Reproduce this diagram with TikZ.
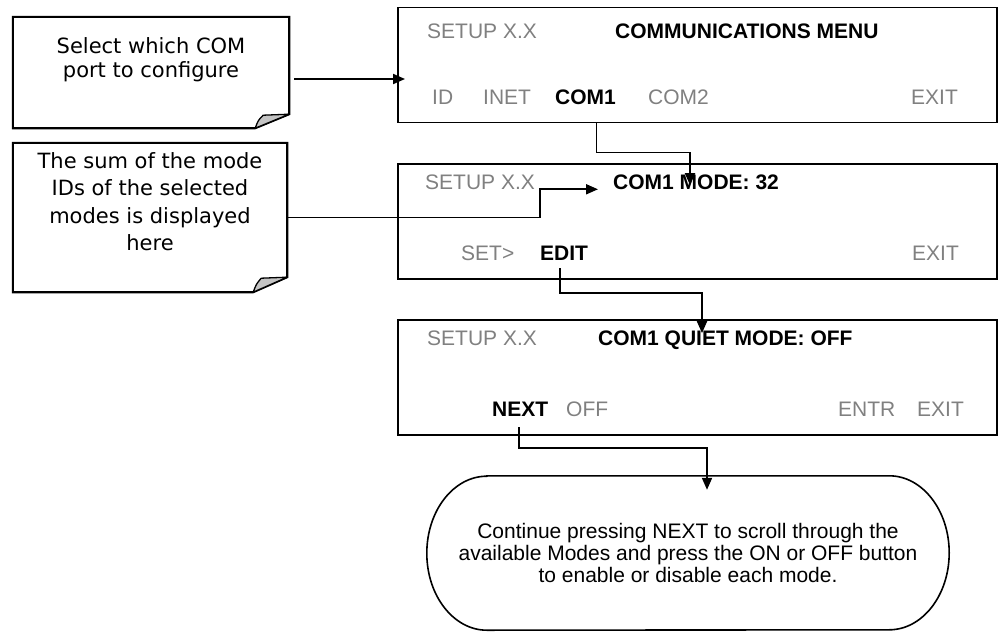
\documentclass[tikz,border=0pt]{standalone}
\usepackage{fontspec}
\setmainfont{Liberation Sans}
\newfontfamily\notefont{DejaVu Sans}
\usetikzlibrary{calc, positioning, arrows.meta}
\definecolor{Tecla}{RGB}{128,128,128}
\definecolor{Pliegue}{RGB}{196,196,196}

\begin{document}
\begin{tikzpicture}[
  x=1pt, y=-1pt,
  every node/.style={inner sep=0pt},
  pantalla/.style={
    rectangle, draw, line width=1.9pt,
    minimum width=599pt, minimum height=115pt
  },
  nota/.style={rectangle, draw=none},
  borde/.style={line width=2.1pt, line join=miter},
  pliegue/.style={line width=1.3pt, fill=Pliegue, line join=round},
  textonota/.style={align=center, font=\notefont\fontsize{21}{24}\selectfont},
  gris/.style={anchor=base west, text=Tecla, font=\fontsize{21}{25}\selectfont},
  negro/.style={anchor=base west, font=\fontsize{21}{25}\selectfont\bfseries},
  aviso/.style={align=center, font=\fontsize{21}{22}\selectfont,
    minimum width=522pt, minimum height=154pt},
  link/.style={line width=1.9pt, line join=miter,
    -{Triangle[length=12pt, width=10pt]}}
]
  \useasboundingbox (0,0) rectangle (999,632);

  % --- Notas de la izquierda ---
  \node[nota, minimum width=276pt, minimum height=111pt] (notaCom) at (151,72.5) {};
  \draw[borde] (notaCom.north west) -- (notaCom.north east)
    -- ([yshift=14pt]notaCom.south east) -- ([xshift=-34pt]notaCom.south east)
    -- (notaCom.south west) -- cycle;
  \filldraw[pliegue] ([xshift=-34pt]notaCom.south east)
    .. controls ([xshift=-31pt,yshift=8pt]notaCom.south east) .. ([xshift=-26pt,yshift=13pt]notaCom.south east)
    -- ([yshift=14pt]notaCom.south east) -- cycle;
  \node[textonota, anchor=north] (txtCom) at (151,37) {Select which COM\\port to configure};

  \node[nota, minimum width=274pt, minimum height=149pt] (notaSuma) at (150,217.5) {};
  \draw[borde] (notaSuma.north west) -- (notaSuma.north east)
    -- ([yshift=15pt]notaSuma.south east) -- ([xshift=-34pt]notaSuma.south east)
    -- (notaSuma.south west) -- cycle;
  \filldraw[pliegue] ([xshift=-34pt]notaSuma.south east)
    .. controls ([xshift=-31pt,yshift=8pt]notaSuma.south east) .. ([xshift=-26pt,yshift=14pt]notaSuma.south east)
    -- ([yshift=15pt]notaSuma.south east) -- cycle;
  \node[textonota, anchor=north, font=\notefont\fontsize{21}{27.5}\selectfont] (txtSuma) at (150,152)
    {The sum of the mode\\IDs of the selected\\modes is displayed\\here};

  % --- Pantallas ---
  \node[pantalla] (menu)   at (697.5,65)    {};
  \node[pantalla] (modo)   at (697.5,221.5) {};
  \node[pantalla] (quiet)  at (697.5,377.5) {};

  \node[gris]  (setupA) at (427,38)  {SETUP X.X};
  \node[negro] (titA)   at (615,38)  {COMMUNICATIONS MENU};
  \node[gris]  (id)     at (432,104) {ID};
  \node[gris]  (inet)   at (483,104) {INET};
  \node[negro] (com1)   at (555,104) {COM1};
  \node[gris]  (com2)   at (648,104) {COM2};
  \node[gris]  (exitA)  at (911,104) {EXIT};

  \node[gris]  (setupB) at (425,189) {SETUP X.X};
  \node[negro] (titB)   at (613,189) {COM1 MODE: 32};
  \node[gris]  (set)    at (461,260) {SET>};
  \node[negro] (edit)   at (540,260) {EDIT};
  \node[gris]  (exitB)  at (912,260) {EXIT};

  \node[gris]  (setupC) at (427,345) {SETUP X.X};
  \node[negro] (titC)   at (598,345) {COM1 QUIET MODE: OFF};
  \node[negro] (next)   at (492,416) {NEXT};
  \node[gris]  (off)    at (566,416) {OFF};
  \node[gris]  (entr)   at (838,416) {ENTR};
  \node[gris]  (exitC)  at (917,416) {EXIT};

  % --- Mensaje final ---
  \node[aviso] (fin) at (688,553)
    {Continue pressing NEXT to scroll through the\\available Modes and press the ON or OFF button\\to enable or disable each mode.};
  \draw[line width=1.6pt] ([xshift=60pt]fin.north west) -- ([xshift=-60pt]fin.north east)
    arc[start angle=90, end angle=-90, x radius=60pt, y radius=77pt]
    -- ([xshift=60pt]fin.south west)
    arc[start angle=270, end angle=90, x radius=60pt, y radius=77pt] -- cycle;

  % --- Conectores ---
  \draw[link] ([xshift=5pt,yshift=-6.5pt]notaCom.east) -- ([xshift=8pt,yshift=-14pt]menu.west);

  \coordinate (pieCom) at ([xshift=11pt]com1.south);
  \draw[link] (pieCom |- menu.south) -- ++(0,29) -| ([xshift=77pt,yshift=-11pt]titB.north west);

  \draw[link] (notaSuma.east) -- ++(253,0) |- ([xshift=-15pt,yshift=-7.5pt]titB.west);

  \draw[link] ([xshift=-4pt,yshift=-8pt]edit.south) -- ++(0,25) -| ([xshift=104pt,yshift=-3pt]titC.north west);

  \draw[link] ([xshift=-1pt,yshift=-11pt]next.south) -- ++(0,21) -| ([xshift=19pt,yshift=-14pt]fin.north);
\end{tikzpicture}
\end{document}
